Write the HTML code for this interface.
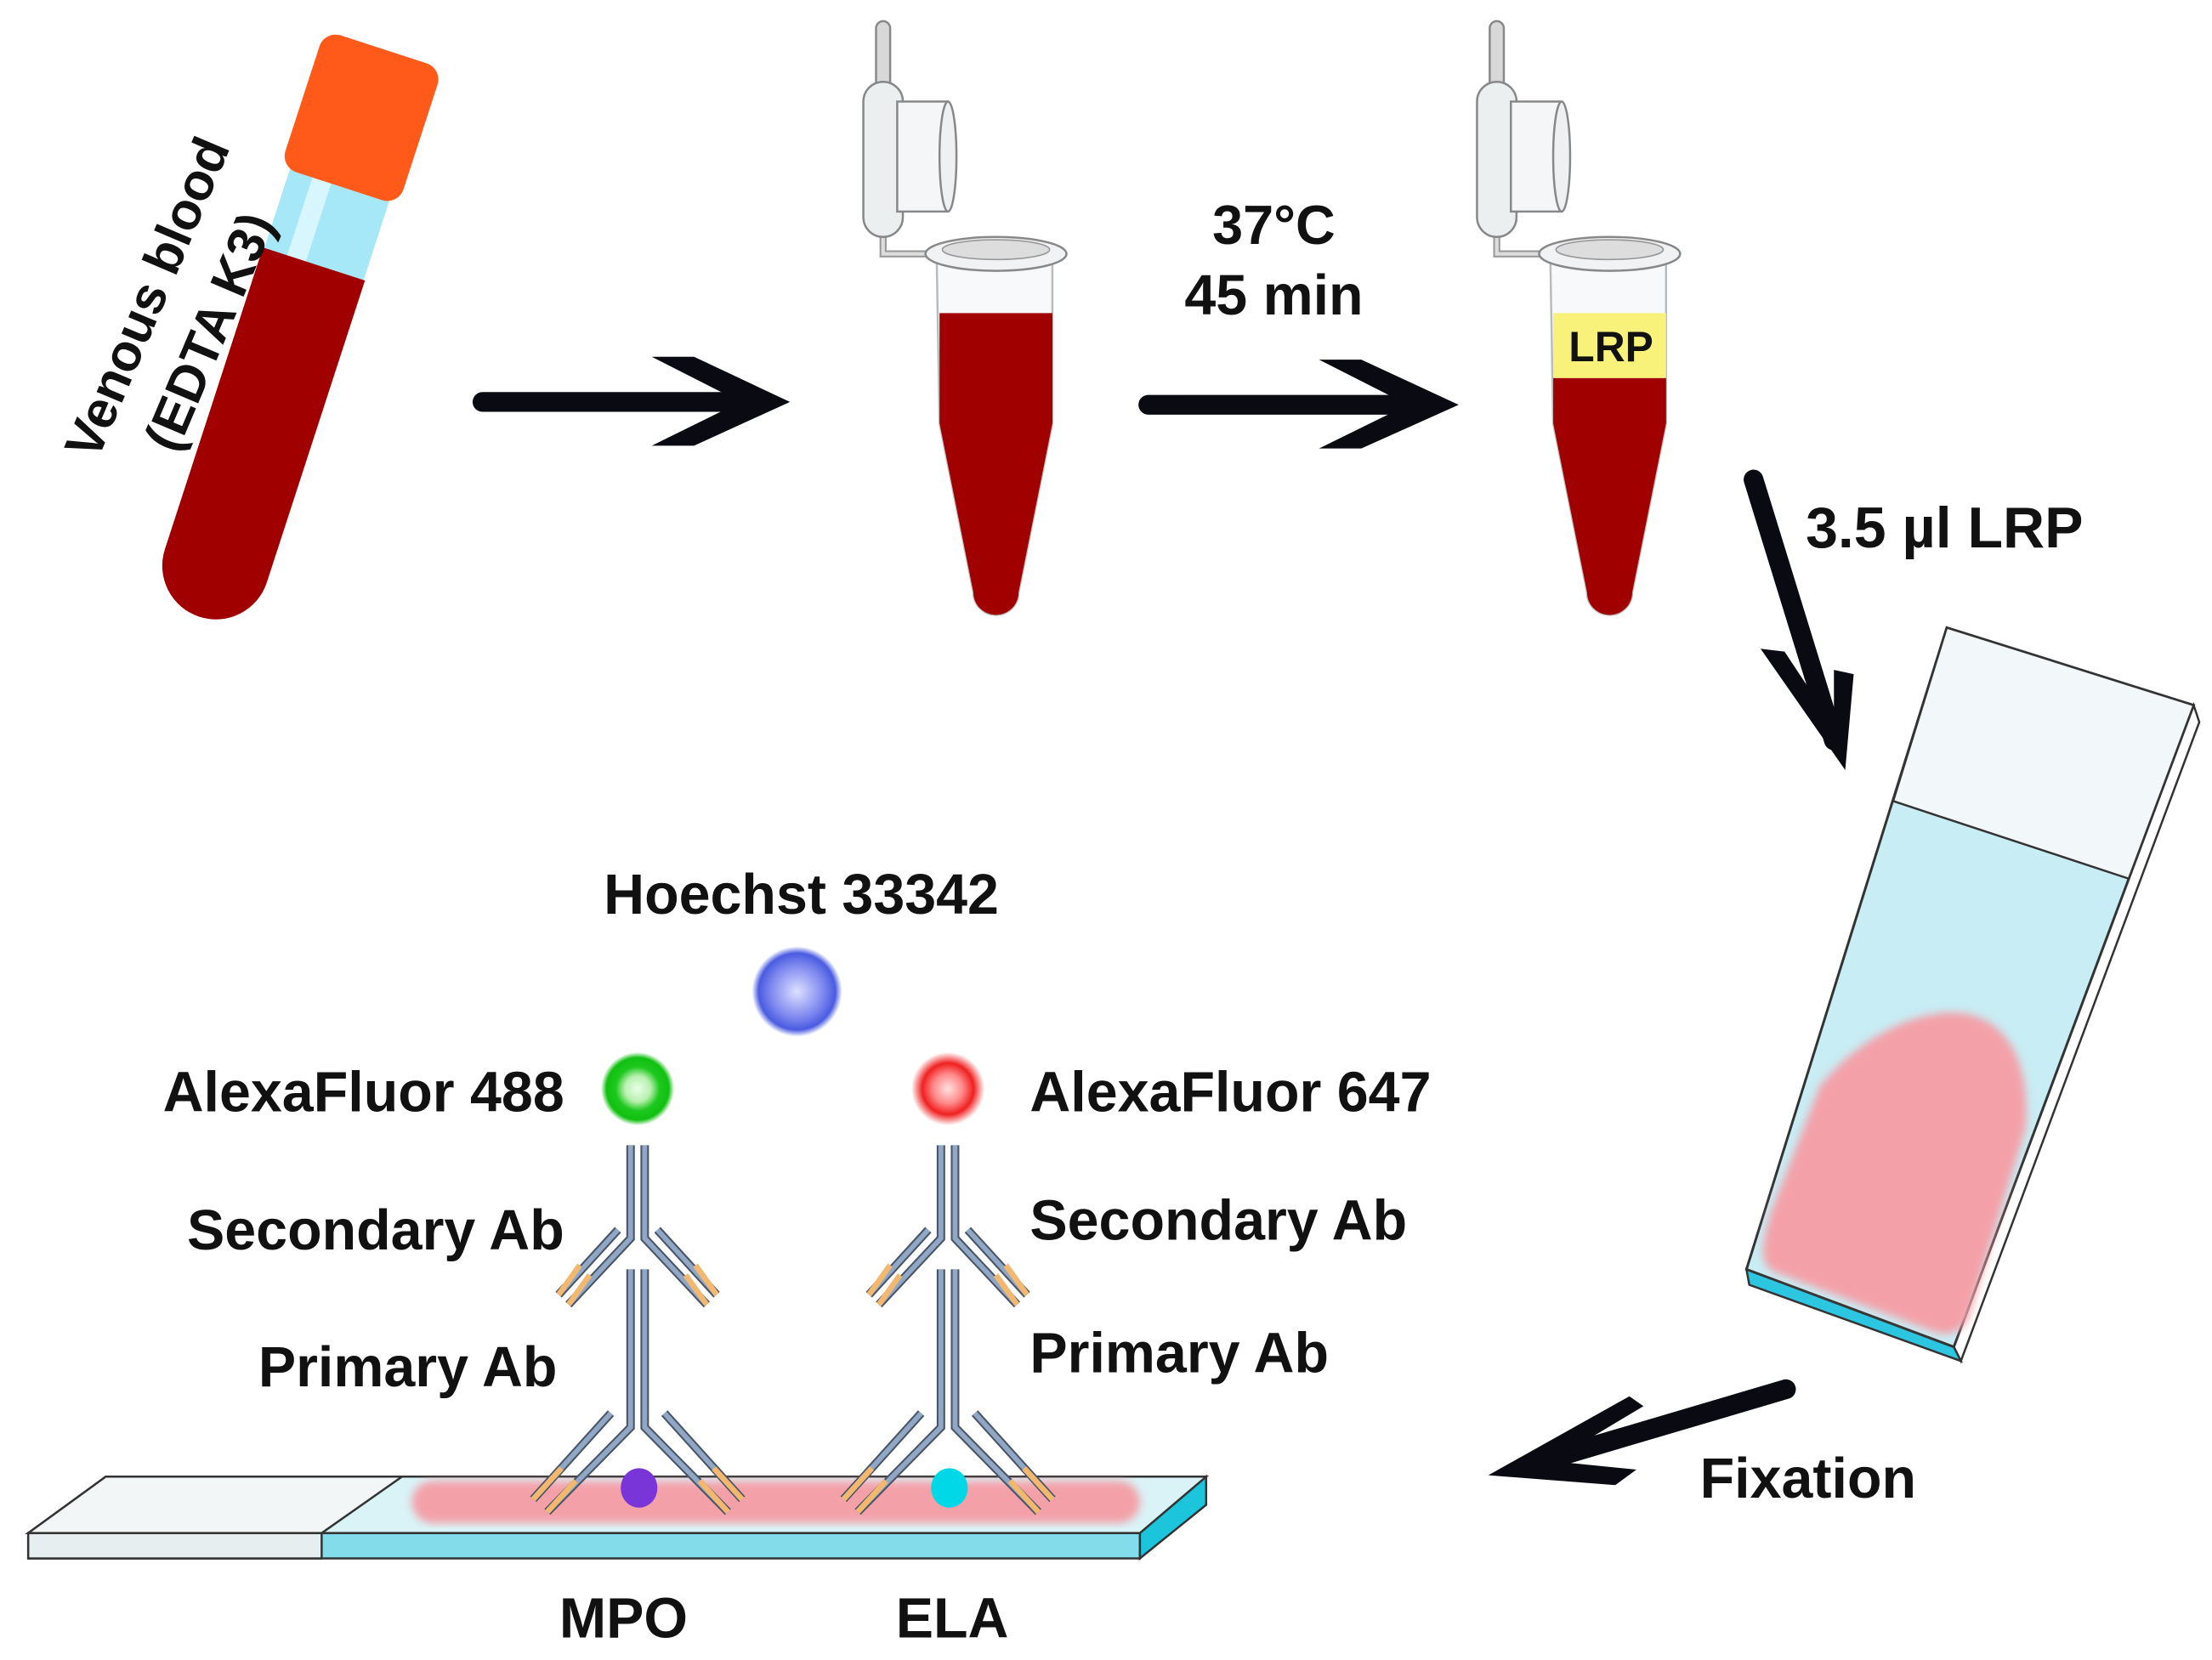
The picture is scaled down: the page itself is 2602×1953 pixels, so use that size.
<!DOCTYPE html>
<html><head><meta charset="utf-8"><style>
html,body{margin:0;padding:0;background:#fff}
svg{display:block}
text{font-family:"Liberation Sans",sans-serif;font-weight:bold;fill:#111}
</style></head><body>
<svg width="2602" height="1953" viewBox="0 0 1568 1177" preserveAspectRatio="none" xmlns="http://www.w3.org/2000/svg">
<defs>
<radialGradient id="gb"><stop offset="0" stop-color="#dde0ff"/><stop offset="0.6" stop-color="#7b86ee"/><stop offset="0.85" stop-color="#4a5be0"/><stop offset="1" stop-color="#4a5be0" stop-opacity="0"/></radialGradient>
<radialGradient id="gg"><stop offset="0" stop-color="#e8ffe8"/><stop offset="0.35" stop-color="#b8f0b0"/><stop offset="0.6" stop-color="#1ec81e"/><stop offset="0.85" stop-color="#10c010"/><stop offset="1" stop-color="#10c010" stop-opacity="0"/></radialGradient>
<radialGradient id="gr"><stop offset="0" stop-color="#ffe0e0"/><stop offset="0.4" stop-color="#ff8a8a"/><stop offset="0.7" stop-color="#f02020"/><stop offset="1" stop-color="#f02020" stop-opacity="0"/></radialGradient>
<filter id="bl"><feGaussianBlur stdDeviation="3"/></filter>
</defs>

<!-- blood tube -->
<g transform="translate(272,35) rotate(18)">
 <rect x="-37" y="90" width="74" height="80" fill="#a6e7f8"/>
 <rect x="-20" y="95" width="14" height="70" fill="#d8f6fd"/>
 <path d="M-38 160 L38 160 L38 385 A38 38 0 0 1 -38 385 Z" fill="#a00000"/>
 <rect x="-44" y="0" width="88" height="102" rx="12" fill="#ff5a1a"/>
</g>
<text transform="translate(116,216) rotate(-67)" font-size="37" text-anchor="middle">Venous blood</text>
<text transform="translate(160,240) rotate(-67)" font-size="37" text-anchor="middle">(EDTA K3)</text>

<!-- arrows -->
<g stroke="#0a0a12" stroke-linecap="round" fill="none">
 <line x1="342" y1="285" x2="540" y2="285" stroke-width="14"/>
 <line x1="814" y1="287" x2="1012" y2="287" stroke-width="14"/>
 <line x1="1243" y1="340" x2="1300" y2="525" stroke-width="14"/>
 <line x1="1266" y1="985" x2="1080" y2="1040" stroke-width="14"/>
</g>
<g fill="#0a0a12">
 <polygon points="462,253 492,253 560,285 492,316 462,316 525,285"/>
 <polygon points="935,255 965,255 1034,287 965,318 935,318 998,287"/>
 <polygon points="1248,460 1265,462 1300,515 1300,475 1314,478 1308,546"/>
 <polygon points="1155,990 1165,997 1100,1036 1160,1042 1145,1053 1055,1046"/>
</g>

<g>
 <rect x="621" y="15" width="10" height="50" rx="5" fill="#d8d8d8" stroke="#888" stroke-width="1.5"/>
 <path d="M626 165 L626 180 L660 180" stroke="#999" stroke-width="5" fill="none"/>
 <path d="M626 165 L626 180 L660 180" stroke="#ddd" stroke-width="2.5" fill="none"/>
 <rect x="612" y="58" width="28" height="110" rx="14" fill="#eceff0" stroke="#888" stroke-width="1.5"/>
 <rect x="636" y="72" width="36" height="78" fill="#f4f6f7" stroke="#888" stroke-width="1.5"/>
 <ellipse cx="672" cy="111" rx="6" ry="39" fill="#eef0f1" stroke="#888" stroke-width="1.5"/>
 <path d="M664 185 L746 185 L746 300 L722 420 A15 15 0 0 1 690 420 L666 300 Z" fill="#f7f9fa" stroke="#bbb" stroke-width="1.5"/>
 <path d="M666 222 L746 222 L746 300 L722 420 A15 15 0 0 1 690 420 L666 300 Z" fill="#a00000"/>
 <ellipse cx="706" cy="180" rx="50" ry="12" fill="#f0f2f3" stroke="#888" stroke-width="1.5"/>
 <ellipse cx="706" cy="177" rx="38" ry="7" fill="#ddd" stroke="#999" stroke-width="1"/>
</g>
<g transform="translate(435,0)">
 <rect x="621" y="15" width="10" height="50" rx="5" fill="#d8d8d8" stroke="#888" stroke-width="1.5"/>
 <path d="M626 165 L626 180 L660 180" stroke="#999" stroke-width="5" fill="none"/>
 <path d="M626 165 L626 180 L660 180" stroke="#ddd" stroke-width="2.5" fill="none"/>
 <rect x="612" y="58" width="28" height="110" rx="14" fill="#eceff0" stroke="#888" stroke-width="1.5"/>
 <rect x="636" y="72" width="36" height="78" fill="#f4f6f7" stroke="#888" stroke-width="1.5"/>
 <ellipse cx="672" cy="111" rx="6" ry="39" fill="#eef0f1" stroke="#888" stroke-width="1.5"/>
 <path d="M664 185 L746 185 L746 300 L722 420 A15 15 0 0 1 690 420 L666 300 Z" fill="#f7f9fa" stroke="#bbb" stroke-width="1.5"/>
 <path d="M666 268 L746 268 L746 300 L722 420 A15 15 0 0 1 690 420 L666 300 Z" fill="#a00000"/>
 <rect x="666" y="222" width="80" height="46" fill="#f8f27a"/>
 <ellipse cx="706" cy="180" rx="50" ry="12" fill="#f0f2f3" stroke="#888" stroke-width="1.5"/>
 <ellipse cx="706" cy="177" rx="38" ry="7" fill="#ddd" stroke="#999" stroke-width="1"/>
</g>
<text x="1142" y="256" font-size="30" text-anchor="middle">LRP</text>

<text x="903" y="173" font-size="39" text-anchor="middle">37°C</text>
<text x="903" y="223" font-size="40" text-anchor="middle">45 min</text>
<text x="1280" y="388" font-size="41">3.5 µl LRP</text>

<!-- tilted slide -->
<polygon points="1555,500 1559,512 1390,965 1385,955" fill="#fff" stroke="#333" stroke-width="1.5"/>
<polygon points="1238,900 1385,955 1390,965 1240,911" fill="#2cc6e0" stroke="#333" stroke-width="1.5"/>
<polygon points="1380,445 1555,500 1385,955 1238,900" fill="#c8edf4" stroke="#333" stroke-width="1.8"/>
<polygon points="1380,445 1555,500 1509,623 1342,568" fill="#f2f7f9" stroke="#333" stroke-width="1.5"/>
<path d="M1380 718 C1420 716 1440 750 1436 800 L1395 935 C1390 945 1380 948 1370 944 L1258 902 C1245 895 1250 880 1255 860 L1290 770 C1310 745 1345 720 1380 718 Z" fill="#f4a0a8" filter="url(#bl)"/>
<text x="1205" y="1062" font-size="40">Fixation</text>

<!-- bottom slide -->
<polygon points="808,1087 855,1047 855,1067 808,1105" fill="#1cc4dc" stroke="#333" stroke-width="1.5"/>
<polygon points="20,1087 808,1087 808,1105 20,1105" fill="#82dcea" stroke="#333" stroke-width="1.5"/>
<polygon points="20,1087 228,1087 228,1105 20,1105" fill="#e6eef0" stroke="#333" stroke-width="1.5"/>
<polygon points="75,1047 855,1047 808,1087 20,1087" fill="#d9f3f7" stroke="#333" stroke-width="1.5"/>
<polygon points="75,1047 285,1047 228,1087 20,1087" fill="#f3f6f7" stroke="#333" stroke-width="1.5"/>
<rect x="292" y="1050" width="516" height="30" rx="15" fill="#f4a0a8" filter="url(#bl)"/>

<!-- antibodies -->
<g stroke-linecap="butt" fill="none">
 <g stroke="#4a5566" stroke-width="6">
  <path d="M447 900 V1012 L388 1072 M457 900 V1012 L516 1072"/>
  <path d="M433 1002 L378 1063 M471 1002 L526 1063"/>
  <path d="M447 812 V878 L403 925 M457 812 V878 L501 925"/>
  <path d="M438 872 L396 918 M466 872 L508 918"/>
  <path d="M667 900 V1012 L608 1072 M677 900 V1012 L736 1072"/>
  <path d="M653 1002 L598 1063 M691 1002 L746 1063"/>
  <path d="M667 812 V878 L623 925 M677 812 V878 L721 925"/>
  <path d="M658 872 L616 918 M686 872 L728 918"/>
 </g>
 <g stroke="#91a7c6" stroke-width="3.5">
  <path d="M447 900 V1012 L388 1072 M457 900 V1012 L516 1072"/>
  <path d="M433 1002 L378 1063 M471 1002 L526 1063"/>
  <path d="M447 812 V878 L403 925 M457 812 V878 L501 925"/>
  <path d="M438 872 L396 918 M466 872 L508 918"/>
  <path d="M667 900 V1012 L608 1072 M677 900 V1012 L736 1072"/>
  <path d="M653 1002 L598 1063 M691 1002 L746 1063"/>
  <path d="M667 812 V878 L623 925 M677 812 V878 L721 925"/>
  <path d="M658 872 L616 918 M686 872 L728 918"/>
 </g>
 <g stroke="#f2b870" stroke-width="4">
  <path d="M408 1050 L388 1072 M496 1050 L516 1072 M398 1041 L378 1063 M506 1041 L526 1063"/>
  <path d="M418 904 L403 925 M486 904 L501 925 M411 897 L396 918 M493 897 L508 918"/>
  <path d="M628 1050 L608 1072 M716 1050 L736 1072 M618 1041 L598 1063 M726 1041 L746 1063"/>
  <path d="M638 904 L623 925 M706 904 L721 925 M631 897 L616 918 M713 897 L728 918"/>
 </g>
</g>
<ellipse cx="453" cy="1055" rx="13" ry="14" fill="#7a35d8"/>
<ellipse cx="673" cy="1055" rx="13" ry="14" fill="#00d8e8"/>

<circle cx="565" cy="703" r="32" fill="url(#gb)"/>
<circle cx="452" cy="772" r="26" fill="url(#gg)"/>
<circle cx="672" cy="772" r="26" fill="url(#gr)"/>

<text x="568" y="648" font-size="40" text-anchor="middle">Hoechst 33342</text>
<text x="400" y="788" font-size="40" text-anchor="end">AlexaFluor 488</text>
<text x="730" y="788" font-size="40">AlexaFluor 647</text>
<text x="400" y="886" font-size="40" text-anchor="end">Secondary Ab</text>
<text x="730" y="879" font-size="40">Secondary Ab</text>
<text x="395" y="983" font-size="40" text-anchor="end">Primary Ab</text>
<text x="730" y="973" font-size="40">Primary Ab</text>
<text x="442" y="1161" font-size="40" text-anchor="middle">MPO</text>
<text x="675" y="1161" font-size="40" text-anchor="middle">ELA</text>
</svg>
</body></html>
